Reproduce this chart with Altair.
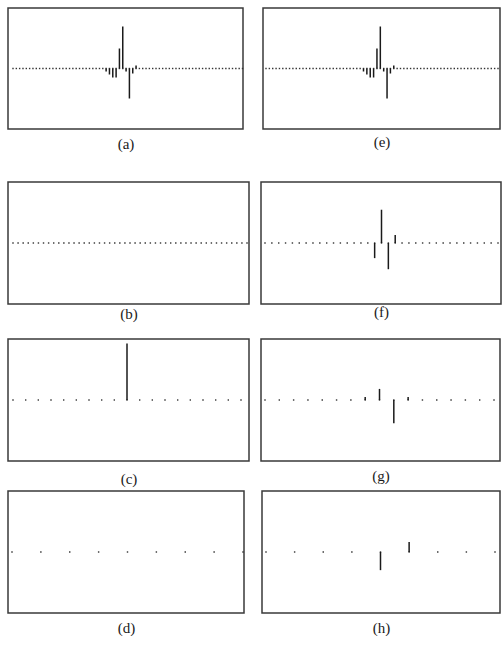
import altair as alt
import pandas as pd

# Panel values (stem heights, arbitrary units; 60 = half panel height)
sig_a = [0] * 28 + [-3, -6, -9, -9, 20, 42, -3, -30, -5, 3] + [0] * 32
sig_b = [0] * 47
sig_c = [0] * 9 + [56] + [0] * 9
sig_d = [0] * 9
sig_e = [0] * 29 + [-3, -6, -9, -9, 20, 42, -3, -30, -5, 3] + [0] * 31
sig_f = [0] * 16 + [-15, 33, -26, 8] + [0] * 15
sig_g = [0] * 7 + [3, 11, -23, 3] + [0] * 6
sig_h = [0] * 4 + [-18, 10] + [0] * 3

labels = ["(a)", "(b)", "(c)", "(d)", "(e)", "(f)", "(g)", "(h)"]

INK = "#1a1a1a"


def panel(vals, label, width, height, lpad, rpad, tpad):
    n = len(vals)
    sp = (width - lpad - rpad) / (n - 1)
    dom = [-lpad / sp, (n - 1) + rpad / sp]
    df = pd.DataFrame({"i": list(range(n)), "v": vals, "z": [0] * n})
    xenc = alt.X(
        "i:Q",
        scale=alt.Scale(domain=dom, nice=False, zero=False),
        axis=alt.Axis(
            title=label, labels=False, ticks=False, domain=False, grid=False,
            titleFont="Liberation Serif", titleFontSize=15,
            titleFontWeight="normal", titleColor=INK, titlePadding=tpad,
        ),
    )
    yscale = alt.Scale(domain=[-60.5, 60.5], nice=False, zero=False)
    base = alt.Chart(df)
    dots = base.mark_square(size=2, color="#333333", opacity=1).encode(
        x=xenc, y=alt.Y("z:Q", scale=yscale, axis=None)
    )
    stems = base.transform_filter("datum.v != 0").mark_rule(
        color=INK, strokeWidth=1.5
    ).encode(
        x=xenc, y=alt.Y("z:Q", scale=yscale, axis=None), y2="v:Q"
    )
    return alt.layer(dots, stems).properties(width=width, height=height)


pa = panel(sig_a, labels[0], 235, 121, 5, 0.5, 7)
pe = panel(sig_e, labels[4], 237, 121, 3, 2, 5)
pb = panel(sig_b, labels[1], 241, 122, 5, 2, 2)
pf = panel(sig_f, labels[5], 240, 122, 4, 3, 0)
pc = panel(sig_c, labels[2], 241, 122, 5, 8, 10)
pg = panel(sig_g, labels[6], 239, 122, 4, 6, 7)
pd_ = panel(sig_d, labels[3], 236, 122, 4, 1, 7)
ph = panel(sig_h, labels[7], 238, 122, 4, 5, 7)

row1 = alt.hconcat(pa, pe, spacing=18)
row2 = alt.hconcat(pb, pf, spacing=10)
row3 = alt.hconcat(pc, pg, spacing=10)
row4 = alt.hconcat(pd_, ph, spacing=16)

chart = alt.vconcat(
    row1,
    alt.vconcat(row2, alt.vconcat(row3, row4, spacing=3), spacing=16),
    spacing=29,
).properties(
    padding={"left": 7, "top": 7, "right": 0, "bottom": 0},
    background="white",
).configure_view(stroke="#3a3a3a", strokeWidth=1.5)

chart.save("out.html", embed_options={"renderer": "svg", "actions": False})
